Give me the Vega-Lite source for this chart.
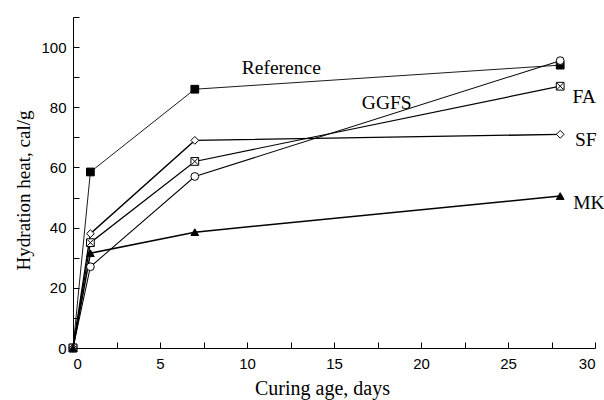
{
  "$schema": "https://vega.github.io/schema/vega-lite/v6.json",
  "width": 522,
  "height": 331,
  "autosize": "none",
  "padding": {"left": 73, "top": 17, "right": 9, "bottom": 52},
  "background": "white",
  "config": {"view": {"stroke": null}},
  "datasets": {
    "pts": [
      {"series": "Reference", "age": 0, "heat": 0},
      {"series": "Reference", "age": 1, "heat": 58.5},
      {"series": "Reference", "age": 7, "heat": 86},
      {"series": "Reference", "age": 28, "heat": 94},
      {"series": "GGFS", "age": 0, "heat": 0},
      {"series": "GGFS", "age": 1, "heat": 27},
      {"series": "GGFS", "age": 7, "heat": 57},
      {"series": "GGFS", "age": 28, "heat": 95.5},
      {"series": "FA", "age": 0, "heat": 0},
      {"series": "FA", "age": 1, "heat": 35},
      {"series": "FA", "age": 7, "heat": 62},
      {"series": "FA", "age": 28, "heat": 87},
      {"series": "SF", "age": 0, "heat": 0},
      {"series": "SF", "age": 1, "heat": 38},
      {"series": "SF", "age": 7, "heat": 69},
      {"series": "SF", "age": 28, "heat": 71},
      {"series": "MK", "age": 0, "heat": 0},
      {"series": "MK", "age": 1, "heat": 31.5},
      {"series": "MK", "age": 7, "heat": 38.5},
      {"series": "MK", "age": 28, "heat": 50.5}
    ],
    "labels": [
      {"text": "Reference", "age": 9.7, "heat": 93},
      {"text": "GGFS", "age": 16.6, "heat": 81.4},
      {"text": "FA", "age": 28.7, "heat": 83.4},
      {"text": "SF", "age": 28.85, "heat": 69},
      {"text": "MK", "age": 28.75, "heat": 48.2}
    ]
  },
  "encoding": {
    "x": {
      "field": "age", "type": "quantitative",
      "scale": {"domain": [0, 30], "nice": false, "zero": false},
      "axis": {
        "title": "Curing age, days",
        "values": [0, 2.5, 5, 7.5, 10, 12.5, 15, 17.5, 20, 22.5, 25, 27.5, 30],
        "labelExpr": "datum.value % 5 === 0 ? datum.label : ''",
        "grid": false, "domainColor": "black", "tickColor": "black",
        "tickSize": -6, "labelPadding": 14,
        "labelFont": "Liberation Sans", "labelFontSize": 15, "labelColor": "black",
        "titleFont": "Liberation Serif", "titleFontSize": 20, "titleFontWeight": "normal",
        "titleColor": "black", "titleX": 249, "titleY": 46, "titleBaseline": "alphabetic", "titleAlign": "center",
        "encode": {"ticks": {"update": {"y2": {"signal": "datum.value % 5 === 0 ? -7 : -4"}}}}
      }
    },
    "y": {
      "field": "heat", "type": "quantitative",
      "scale": {"domain": [0, 110], "nice": false},
      "axis": {
        "title": "Hydration heat, cal/g",
        "values": [0, 10, 20, 30, 40, 50, 60, 70, 80, 90, 100, 110],
        "labelExpr": "datum.value % 20 === 0 && datum.value <= 100 ? datum.label : ''",
        "grid": false, "domainColor": "black", "tickColor": "black",
        "tickSize": -6, "labelPadding": 13,
        "labelFont": "Liberation Sans", "labelFontSize": 15, "labelColor": "black",
        "titleFont": "Liberation Serif", "titleFontSize": 19, "titleFontWeight": "normal",
        "titleColor": "black", "titleX": -44, "titleY": 173, "titleAngle": -90,
        "titleBaseline": "alphabetic", "titleAlign": "center",
        "encode": {"ticks": {"update": {"x2": {"signal": "datum.value % 20 === 0 ? 7 : 4"}}}}
      }
    }
  },
  "layer": [
    {
      "data": {"name": "pts"},
      "mark": {"type": "line", "color": "black"},
      "encoding": {
        "detail": {"field": "series"},
        "strokeWidth": {
          "field": "series", "type": "nominal", "legend": null,
          "scale": {"domain": ["Reference", "GGFS", "FA", "SF", "MK"], "range": [0.9, 1.5, 1.5, 1.5, 1.5]}
        }
      }
    },
    {
      "data": {"name": "pts"},
      "mark": {"type": "point", "filled": true, "stroke": "black", "strokeWidth": 1, "opacity": 1, "size": 60},
      "encoding": {
        "shape": {
          "field": "series", "type": "nominal", "legend": null,
          "scale": {"domain": ["Reference", "GGFS", "FA", "SF", "MK"], "range": ["square", "circle", "square", "diamond", "triangle-up"]}
        },
        "fill": {
          "field": "series", "type": "nominal", "legend": null,
          "scale": {"domain": ["Reference", "GGFS", "FA", "SF", "MK"], "range": ["black", "white", "white", "white", "black"]}
        }
      }
    },
    {
      "data": {"name": "pts"},
      "transform": [{"filter": "datum.series === 'FA' && datum.age > 0"}],
      "mark": {"type": "point", "shape": "M-0.8,-0.8L0.8,0.8M0.8,-0.8L-0.8,0.8", "stroke": "black", "strokeWidth": 1, "filled": false, "size": 60, "opacity": 1}
    },
    {
      "data": {"name": "labels"},
      "mark": {"type": "text", "align": "left", "baseline": "middle", "font": "Liberation Serif", "fontSize": 19.5, "color": "black"},
      "encoding": {"text": {"field": "text"}}
    }
  ]
}
